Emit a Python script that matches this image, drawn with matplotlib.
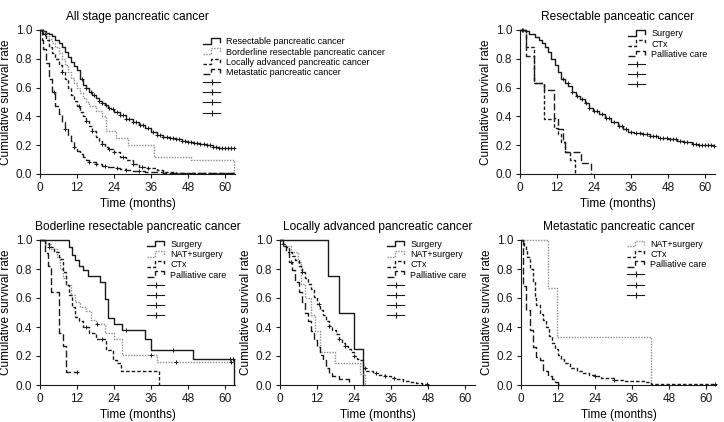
import numpy as np
import matplotlib
matplotlib.use('Agg')
from matplotlib import pyplot as plt
from matplotlib.lines import Line2D
from matplotlib.legend_handler import HandlerBase

plt.rcParams['font.family'] = ['Liberation Sans', 'DejaVu Sans']

# ---------------- data ----------------
# All stage
all_res_t = [0, 1, 2, 3, 4, 5, 6, 7, 8, 9, 10, 11, 12, 13, 14, 15, 16, 17, 18, 19, 20, 21, 22, 23, 24,
             26, 28, 30, 32, 34, 36, 38, 40, 42, 44, 46, 48, 50, 52, 54, 56, 58, 60, 63]
all_res_s = [1, 0.99, 0.98, 0.97, 0.955, 0.93, 0.91, 0.88, 0.85, 0.81, 0.78, 0.75, 0.72, 0.66, 0.62, 0.6,
             0.57, 0.55, 0.53, 0.51, 0.49, 0.48, 0.46, 0.45, 0.43, 0.41, 0.38, 0.36, 0.34, 0.32, 0.29, 0.27,
             0.26, 0.25, 0.245, 0.23, 0.22, 0.215, 0.21, 0.2, 0.19, 0.18, 0.178, 0.178]
all_res_c = [1, 13.5, 15, 16.5, 17.5, 19, 20, 21.5, 22.5, 23.5, 25, 26, 27, 28, 29, 30, 31, 32.5, 33.5, 35,
             36.5, 38, 39, 40, 41, 42, 43, 44, 45, 46, 47, 48, 49, 50, 51, 52, 53, 54, 55, 56, 57, 58, 59,
             60, 61, 62, 63]
all_bor_t = [0, 1, 2, 3, 4, 5, 6, 7, 8, 9, 10, 11, 12, 13, 14, 15, 16, 18, 20, 21.5, 24.5, 28.5, 37, 49, 63]
all_bor_s = [1, 0.98, 0.96, 0.94, 0.91, 0.88, 0.84, 0.8, 0.76, 0.71, 0.67, 0.63, 0.6, 0.56, 0.53, 0.5,
             0.47, 0.44, 0.4, 0.3, 0.25, 0.2, 0.12, 0.097, 0]
all_bor_c = []
all_lap_t = [0, 1, 2, 3, 4, 5, 6, 7, 8, 9, 10, 11, 12, 13, 14, 15, 16, 17, 18, 19, 20, 21, 22, 24, 26,
             28, 30, 32, 34, 36, 38, 40, 44, 63]
all_lap_s = [1, 0.97, 0.93, 0.88, 0.84, 0.8, 0.76, 0.71, 0.66, 0.6, 0.55, 0.51, 0.47, 0.43, 0.4, 0.37,
             0.33, 0.3, 0.26, 0.23, 0.21, 0.19, 0.175, 0.155, 0.12, 0.1, 0.07, 0.05, 0.045, 0.04, 0.03,
             0.015, 0.01, 0.005]
all_lap_c = [1.5, 7, 12.5, 15, 17, 20, 22.5, 24, 27, 30, 33, 35]
all_met_t = [0, 0.5, 1, 2, 3, 4, 5, 6, 7, 8, 9, 10, 11, 12, 13, 14, 15, 16, 18, 20, 22, 24, 26, 28, 30,
             34, 40, 63]
all_met_s = [1, 0.93, 0.87, 0.77, 0.66, 0.57, 0.47, 0.42, 0.36, 0.31, 0.27, 0.23, 0.19, 0.16, 0.14, 0.12,
             0.1, 0.085, 0.07, 0.055, 0.048, 0.04, 0.035, 0.025, 0.02, 0.015, 0.008, 0.008]
all_met_c = [4.5, 8, 11, 16, 18, 21, 25, 28, 32]

# Resectable
res_sur_t = [0, 1.5, 3, 4.8, 6, 7, 8, 9, 10, 11.2, 12.3, 13.4, 14.5, 15.6, 17, 18.3, 19.5, 21, 22.5,
             23.7, 25.5, 27.5, 29.5, 31.8, 33.5, 35, 37, 39.4, 42, 44.8, 48, 51, 53, 55.6, 57.7, 63]
res_sur_s = [1, 0.99, 0.97, 0.95, 0.93, 0.91, 0.88, 0.85, 0.8, 0.76, 0.71, 0.66, 0.63, 0.61, 0.57, 0.54,
             0.52, 0.49, 0.46, 0.44, 0.42, 0.39, 0.36, 0.33, 0.31, 0.29, 0.285, 0.28, 0.265, 0.25, 0.24,
             0.23, 0.22, 0.21, 0.2, 0.195]
res_sur_c = [1, 14, 15.5, 17, 18.5, 20, 21.5, 22.5, 24, 25, 26.5, 28, 29, 30.5, 32, 33, 34.5, 36, 37.5,
             39, 40, 41, 42, 43, 44, 45.5, 46.5, 47.5, 48.5, 49.5, 50.5, 52, 53, 54, 56, 57, 58, 59, 60,
             61, 62, 63]
res_ctx_t = [0, 1.8, 4.5, 7.85, 11.1, 12.4, 13.2, 14.7, 16.1, 17.7]
res_ctx_s = [1, 0.88, 0.63, 0.38, 0.32, 0.28, 0.22, 0.155, 0.1, 0]
res_ctx_c = []
res_pal_t = [0, 1.8, 4.5, 7.85, 11.1, 12.4, 13.9, 14.7, 19.9, 23.1]
res_pal_s = [1, 0.82, 0.63, 0.58, 0.39, 0.31, 0.22, 0.155, 0.078, 0]
res_pal_c = [0.5]

# Borderline resectable
bor_sur_t = [0, 9.5, 10.5, 11.5, 12.5, 14, 15.5, 19.5, 21, 22, 24, 26.5, 34, 36, 49.5, 63]
bor_sur_s = [1, 0.95, 0.9, 0.86, 0.82, 0.79, 0.75, 0.71, 0.59, 0.46, 0.42, 0.38, 0.32, 0.24, 0.18, 0]
bor_sur_c = [28, 43, 61.5, 62.5]
bor_nat_t = [0, 1.5, 3.7, 5.5, 6.5, 7.5, 8.5, 10, 11.5, 13, 15, 16.5, 18, 21, 24, 26.5, 38, 63]
bor_nat_s = [1, 0.97, 0.94, 0.88, 0.8, 0.74, 0.69, 0.62, 0.575, 0.54, 0.51, 0.45, 0.42, 0.36, 0.32,
             0.21, 0.16, 0.16]
bor_nat_c = [18.5, 36, 44, 62]
bor_ctx_t = [0, 1.5, 3, 4.5, 6, 7.5, 8.5, 9.5, 10.5, 11.5, 12.5, 14, 16, 18, 21.5, 23.7, 25, 26.4, 38.5]
bor_ctx_s = [1, 0.98, 0.95, 0.92, 0.87, 0.78, 0.69, 0.62, 0.54, 0.47, 0.44, 0.4, 0.36, 0.32, 0.24,
             0.17, 0.15, 0.097, 0]
bor_ctx_c = [3, 15, 20]
bor_pal_t = [0, 1.5, 2.6, 3.7, 6.2, 7.5, 8.5, 12.3]
bor_pal_s = [1, 0.91, 0.82, 0.64, 0.36, 0.27, 0.09, 0.09]
bor_pal_c = [12]

# Locally advanced
lap_sur_t = [0, 15.4, 19, 24, 26.9]
lap_sur_s = [1, 0.75, 0.5, 0.25, 0]
lap_sur_c = []
lap_nat_t = [0, 1, 3.5, 5.8, 6.9, 8, 10.2, 11.2, 12.9, 17.7, 25.8, 27.7]
lap_nat_s = [1, 0.96, 0.92, 0.85, 0.7, 0.6, 0.48, 0.37, 0.23, 0.155, 0.077, 0]
lap_nat_c = []
lap_ctx_t = [0, 1, 2, 3, 4, 5, 6, 7, 8, 9, 10, 11, 12, 13, 14, 15, 16, 17, 18, 19, 20, 21, 22, 23, 24,
             25, 26, 27, 28, 30, 32, 34, 36, 38, 40, 42, 44, 46, 48]
lap_ctx_s = [1, 0.97, 0.95, 0.92, 0.89, 0.86, 0.82, 0.78, 0.74, 0.7, 0.66, 0.61, 0.56, 0.52, 0.48, 0.44,
             0.41, 0.38, 0.35, 0.32, 0.29, 0.27, 0.25, 0.23, 0.2, 0.18, 0.17, 0.12, 0.1, 0.08, 0.07, 0.06,
             0.05, 0.04, 0.03, 0.02, 0.015, 0.01, 0.01]
lap_ctx_c = [1, 7, 12.5, 16, 19, 21, 24, 27.5, 31, 34, 37, 47.5]
lap_pal_t = [0, 1, 2, 3, 4, 5, 6, 7, 8, 9, 10, 11, 12, 13, 14, 15, 16, 17, 19, 22.5]
lap_pal_s = [1, 0.96, 0.92, 0.85, 0.79, 0.71, 0.64, 0.57, 0.5, 0.44, 0.37, 0.31, 0.26, 0.21, 0.17,
             0.12, 0.08, 0.06, 0.04, 0]
lap_pal_c = [3.5]

# Metastatic
met_nat_t = [0, 8.8, 11.8, 42.2]
met_nat_s = [1, 0.667, 0.333, 0]
met_nat_c = []
met_ctx_t = [0, 0.5, 1, 1.5, 2, 3, 4, 4.5, 5, 6, 7, 8, 9, 10, 11, 12, 13, 14, 16, 18, 20, 22, 24, 26,
             28, 30, 33, 36, 40, 42.2, 63]
met_ctx_s = [1, 0.98, 0.96, 0.93, 0.88, 0.8, 0.72, 0.6, 0.55, 0.49, 0.45, 0.4, 0.34, 0.29, 0.25, 0.21,
             0.18, 0.155, 0.12, 0.1, 0.08, 0.07, 0.065, 0.05, 0.045, 0.035, 0.03, 0.025, 0.02, 0.008, 0.008]
met_ctx_c = [24, 30, 63]
met_pal_t = [0, 0.7, 1.7, 2.8, 3.9, 5, 6.1, 7.2, 8.8, 9.9, 11, 12, 13]
met_pal_s = [1, 0.68, 0.52, 0.38, 0.26, 0.195, 0.17, 0.1, 0.06, 0.04, 0.02, 0.01, 0]
met_pal_c = []

titles = ['All stage pancreatic cancer', 'Resectable panceatic cancer',
          'Boderline resectable pancreatic cancer', 'Locally advanced pancreatic cancer',
          'Metastatic pancreatic cancer']
xticks = [0, 12, 24, 36, 48, 60]
yticks = [0.0, 0.2, 0.4, 0.6, 0.8, 1.0]

# line styles
DK = '#1a1a1a'
ST = {
    'solid': dict(color=DK, linestyle='-', lw=1.0),
    'dot': dict(color='#8c8c8c', linestyle=(0, (1, 1)), lw=1.0),
    'dash': dict(color=DK, linestyle=(0, (2.5, 1.5)), lw=1.0),
    'long': dict(color=DK, linestyle=(0, (5, 2)), lw=1.0),
}


class StepHandler(HandlerBase):
    # SPSS-like little step icon
    def create_artists(self, legend, orig_handle, xdescent, ydescent, width, height, fontsize, trans):
        x0 = -xdescent
        y0 = -ydescent
        xs = [x0, x0 + 0.45 * width, x0 + 0.45 * width, x0 + width, x0 + width]
        ys = [y0 + 0.1 * height, y0 + 0.1 * height, y0 + height, y0 + height, y0 + 0.35 * height]
        ln = Line2D(xs, ys)
        ln.update_from(orig_handle)
        ln.set_transform(trans)
        return [ln]


fig = plt.figure(figsize=(7.24, 4.22), dpi=100)

W = 195 / 724
pos = [
    [40 / 724, 1 - 174 / 422, W, 144 / 422],
    [520 / 724, 1 - 174 / 422, W, 144 / 422],
    [40 / 724, 1 - 385 / 422, W, 145 / 422],
    [280 / 724, 1 - 385 / 422, W, 145 / 422],
    [521 / 724, 1 - 385 / 422, W, 145 / 422],
]

panels = [
    [(all_res_t, all_res_s, all_res_c, 'solid', 'Resectable pancreatic cancer'),
     (all_bor_t, all_bor_s, all_bor_c, 'dot', 'Borderline resectable pancreatic cancer'),
     (all_lap_t, all_lap_s, all_lap_c, 'dash', 'Locally advanced pancreatic cancer'),
     (all_met_t, all_met_s, all_met_c, 'long', 'Metastatic pancreatic cancer')],
    [(res_sur_t, res_sur_s, res_sur_c, 'solid', 'Surgery'),
     (res_ctx_t, res_ctx_s, res_ctx_c, 'dash', 'CTx'),
     (res_pal_t, res_pal_s, res_pal_c, 'long', 'Palliative care')],
    [(bor_sur_t, bor_sur_s, bor_sur_c, 'solid', 'Surgery'),
     (bor_nat_t, bor_nat_s, bor_nat_c, 'dot', 'NAT+surgery'),
     (bor_ctx_t, bor_ctx_s, bor_ctx_c, 'dash', 'CTx'),
     (bor_pal_t, bor_pal_s, bor_pal_c, 'long', 'Palliative care')],
    [(lap_sur_t, lap_sur_s, lap_sur_c, 'solid', 'Surgery'),
     (lap_nat_t, lap_nat_s, lap_nat_c, 'dot', 'NAT+surgery'),
     (lap_ctx_t, lap_ctx_s, lap_ctx_c, 'dash', 'CTx'),
     (lap_pal_t, lap_pal_s, lap_pal_c, 'long', 'Palliative care')],
    [(met_nat_t, met_nat_s, met_nat_c, 'dot', 'NAT+surgery'),
     (met_ctx_t, met_ctx_s, met_ctx_c, 'dash', 'CTx'),
     (met_pal_t, met_pal_s, met_pal_c, 'long', 'Palliative care')],
]

# legend upper-left corners in pixels
leg_xy = [(203, 37.5), (628, 29.5), (147, 240), (387, 240), (627, 240)]

for i in range(5):
    ax = fig.add_axes(pos[i])
    handles = []
    labels = []
    for t, s, c, sty, lab in panels[i]:
        t = np.asarray(t, float)
        s = np.asarray(s, float)
        h, = ax.step(t, s, where='post', clip_on=False, **ST[sty])
        if len(c):
            c = np.asarray(c, float)
            idx = np.searchsorted(t, c, side='right') - 1
            ax.plot(c, s[idx], '+', color=DK, ms=3.5, mew=0.7, clip_on=False)
        handles.append(h)
        labels.append(lab)
    for _ in panels[i]:
        handles.append(Line2D([], [], color=DK, lw=0.8, marker='|', ms=5, mew=0.8))
        labels.append('')

    ax.set_xlim(0, 63.2)
    ax.set_ylim(0, 1.0)
    ax.set_xticks(xticks)
    ax.set_yticks(yticks)
    ax.set_yticklabels(['%.1f' % v for v in yticks])
    for sp in ['top', 'right']:
        ax.spines[sp].set_visible(False)
    for sp in ['left', 'bottom']:
        ax.spines[sp].set_linewidth(0.8)
        ax.spines[sp].set_color(DK)
    ax.tick_params(direction='out', length=3, width=0.8, labelsize=8.5, pad=2.5, colors=DK)
    ax.set_xlabel('Time (months)', fontsize=8.5, labelpad=3)
    ax.set_ylabel('Cumulative survival rate', fontsize=8.5, labelpad=3)
    ax.set_title(titles[i], fontsize=8.6, pad=7)

    hmap = {h: StepHandler() for h in handles[:len(panels[i])]}
    lx, ly = leg_xy[i]
    ax.legend(handles, labels, handler_map=hmap, loc='upper left',
              bbox_to_anchor=(lx / 724, 1 - ly / 422), bbox_transform=fig.transFigure,
              frameon=False, fontsize=6.5, borderpad=0, borderaxespad=0,
              handlelength=1.9, handleheight=0.7, handletextpad=0.7, labelspacing=0.13)

plt.savefig('out.png', dpi=100)
